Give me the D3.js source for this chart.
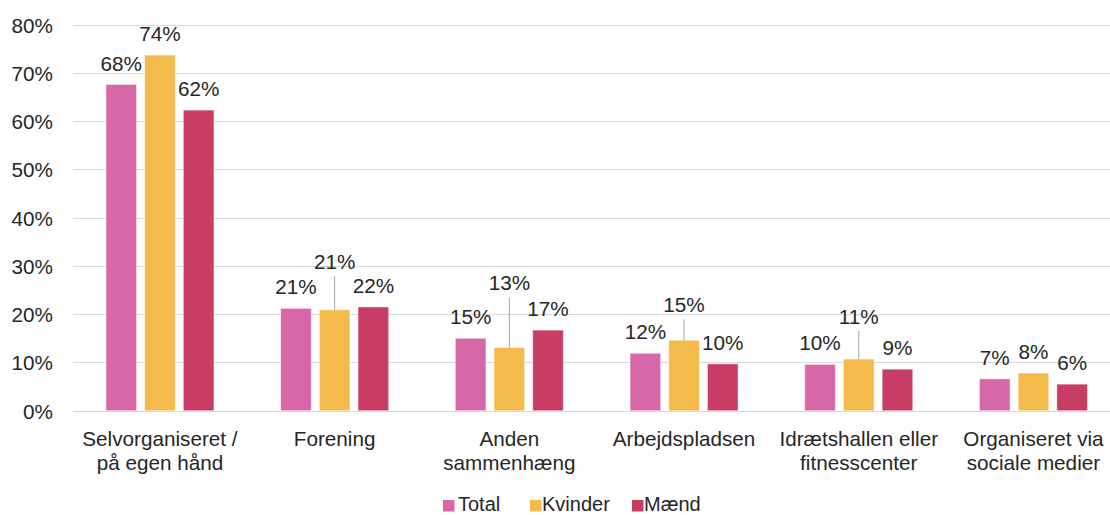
<!DOCTYPE html>
<html>
<head>
<meta charset="utf-8">
<script src="https://cdn.jsdelivr.net/npm/d3@7"></script>
<style>
  body { margin: 0; background: #fff; }
  text { font-family: "Liberation Sans", Arial, sans-serif; fill: #262626; }
</style>
</head>
<body>
<svg id="drawing_region"></svg>
<script>
var width = 1110;
var height = 515;
var fontSize = 20.7;

// data
const categories = [
  ["Selvorganiseret /", "på egen hånd"],
  ["Forening"],
  ["Anden", "sammenhæng"],
  ["Arbejdspladsen"],
  ["Idrætshallen eller", "fitnesscenter"],
  ["Organiseret via", "sociale medier"]
];
const series = ["Total", "Kvinder", "Mænd"];
const total   = [67.6, 21.2, 15.0, 11.9, 9.6, 6.6];
const kvinder = [73.7, 20.9, 13.1, 14.6, 10.7, 7.8];
const maend   = [62.3, 21.5, 16.7, 9.7, 8.6, 5.5];
const yTicks  = [0, 10, 20, 30, 40, 50, 60, 70, 80];

const colors = ["#d867a8", "#f4bb4b", "#c93c63"];
// extra lift for labels drawn with a leader line (Kvinder series)
const kvinderLift = [0, 27, 43, 14, 21, 0];

const values = [total, kvinder, maend];

var svg = d3.select('#drawing_region')
      .attr('width', width)
      .attr('height', height);

const x0 = d3.scaleBand()
      .domain(d3.range(categories.length))
      .range([72.6, 1120.8]);

const groupW = 116.1;
const x1 = d3.scaleBand()
      .domain(series)
      .range([(x0.bandwidth() - groupW) / 2, (x0.bandwidth() + groupW) / 2])
      .paddingInner(0.21)
      .paddingOuter(0.105);

const yscale = d3.scaleLinear()
      .domain([0, 80])
      .range([410.7, 24.7]);

// grid lines
svg.append('g')
      .selectAll('line')
      .data(yTicks)
      .enter()
      .append('line')
      .attr('x1', 73)
      .attr('x2', width)
      .attr('y1', d => Math.round(yscale(d)) + 0.5)
      .attr('y2', d => Math.round(yscale(d)) + 0.5)
      .attr('stroke', '#d9d9d9')
      .attr('stroke-width', 1.2);

// y axis labels
const yAxis = d3.axisLeft(yscale).tickValues(yTicks).tickFormat(d => d + '%').tickSize(0).tickPadding(0);
const yg = svg.append('g')
      .attr('transform', 'translate(53,0)')
      .call(yAxis);
yg.select('.domain').remove();
yg.selectAll('text')
      .attr('font-size', fontSize)
      .attr('font-family', '"Liberation Sans", Arial, sans-serif')
      .attr('fill', '#262626')
      .attr('dy', '0.36em');

// bars
const groups = svg.append('g')
      .selectAll('g')
      .data(categories)
      .enter()
      .append('g')
      .attr('transform', (d, i) => `translate(${x0(i)},0)`);

series.forEach((s, si) => {
  groups.append('rect')
        .attr('x', x1(s))
        .attr('width', x1.bandwidth())
        .attr('y', (d, i) => yscale(values[si][i]))
        .attr('height', (d, i) => yscale(0) - yscale(values[si][i]))
        .attr('fill', colors[si])
        .attr('stroke', 'rgba(255,255,255,0.45)')
        .attr('stroke-width', 1);

  // leader lines
  if (s === "Kvinder") {
    groups.filter((d, i) => kvinderLift[i] > 0)
          .append('line')
          .attr('x1', x1(s) + x1.bandwidth() / 2)
          .attr('x2', x1(s) + x1.bandwidth() / 2)
          .attr('y1', function() {
            const i = categories.indexOf(d3.select(this.parentNode).datum());
            return yscale(values[si][i]) - 14 - kvinderLift[i] + 7;
          })
          .attr('y2', function() {
            const i = categories.indexOf(d3.select(this.parentNode).datum());
            return yscale(values[si][i]);
          })
          .attr('stroke', '#a6a6a6')
          .attr('stroke-width', 1);
  }

  groups.append('text')
        .attr('x', x1(s) + x1.bandwidth() / 2)
        .attr('y', (d, i) => yscale(values[si][i]) - 14 - (s === "Kvinder" ? kvinderLift[i] : 0))
        .attr('text-anchor', 'middle')
        .attr('font-size', fontSize)
        .text((d, i) => Math.round(values[si][i]) + '%');
});

// category labels
groups.append('text')
      .attr('x', x0.bandwidth() / 2)
      .attr('y', 446)
      .attr('text-anchor', 'middle')
      .attr('font-size', fontSize)
      .selectAll('tspan')
      .data(d => d)
      .enter()
      .append('tspan')
      .attr('x', x0.bandwidth() / 2)
      .attr('dy', (d, i) => i === 0 ? 0 : 24)
      .text(d => d);

// legend
const legendX = [443, 530, 632];
const legend = svg.append('g')
      .selectAll('g')
      .data(series)
      .enter()
      .append('g')
      .attr('transform', (d, i) => `translate(${legendX[i]},0)`);
legend.append('rect')
      .attr('x', 0)
      .attr('y', 500)
      .attr('width', 11.5)
      .attr('height', 11.5)
      .attr('fill', (d, i) => colors[i]);
legend.append('text')
      .attr('x', (d, i) => i === 0 ? 15 : 12)
      .attr('y', 510.5)
      .attr('font-size', 20)
      .text(d => d);
</script>
</body>
</html>
